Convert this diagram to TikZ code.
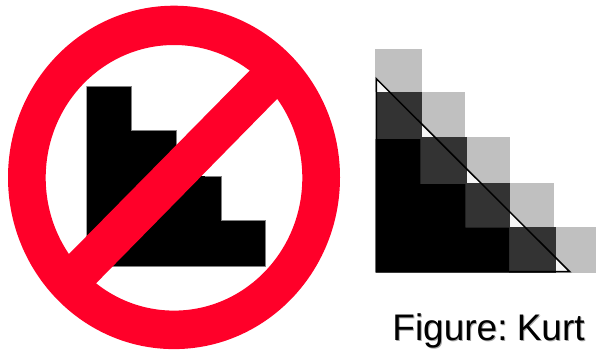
\documentclass[tikz,border=0pt]{standalone}
\usepackage{fontspec}
\setmainfont{Liberation Sans}
\definecolor{signred}{HTML}{FF0029}
\definecolor{lightcell}{HTML}{C0C0C0}
\definecolor{darkcell}{HTML}{333333}
\tikzset{
  lightsq/.style={fill=lightcell,draw=none},
  darksq/.style={fill=darkcell,draw=none},
  solidblack/.style={fill=black,draw=none},
  signpart/.style={fill=signred,draw=none},
  caption/.style={font=\fontsize{37}{42}\selectfont,inner sep=0pt,anchor=base west}
}
\begin{document}
\begin{tikzpicture}[x=1pt,y=-1pt]
\useasboundingbox (0,0) rectangle (596,351);
\fill[white] (0,0) rectangle (596,351);
% stairs behind the sign
\path[solidblack] (86.7,86) -- (131.3,86) -- (131.3,130) -- (176.3,130) -- (176.3,176) -- (221.3,176) -- (221.3,220) -- (265.3,220) -- (265.3,266.3) -- (86.7,266.3) -- cycle;
\draw[gray,line width=0.5pt] (86.7,86) -- (131.3,86) -- (131.3,130) -- (176.3,130) -- (176.3,150) (205,176) -- (221.3,176) -- (221.3,220) -- (265.3,220) -- (265.3,266.3) -- (110,266.3);
% prohibition sign
\path[signpart,even odd rule] (174,177.4) ellipse [x radius=166,y radius=171.7] (174,177.8) ellipse [x radius=128.3,y radius=132.8];
\path[signpart] (263.3,56.8) -- (290.7,85.1) -- (82.7,296.9) -- (55,268.2) -- cycle;
% pixel grid
\path[lightsq] (375.3,49) rectangle (421.7,92.3);
\path[lightsq] (421.7,92.3) rectangle (465.3,137.3);
\path[lightsq] (466.7,137.3) rectangle (510.3,182.7);
\path[lightsq] (510.3,182.7) rectangle (554.3,226.7);
\path[lightsq] (555.7,226.7) rectangle (595.7,272.7);
\fill[white!85!lightcell] (376.3,78.7) -- (569.7,271.7) -- (376.3,271.7) -- cycle;
\path[darksq] (375.7,92.3) rectangle (421.7,139);
\path[darksq] (420.3,137.3) rectangle (466.7,184);
\path[darksq] (465.3,182.7) rectangle (510.3,227.7);
\path[darksq] (509,226.7) rectangle (555.7,272.7);
\path[solidblack] (375.7,139) -- (420.3,139) -- (420.3,184) -- (465.3,184) -- (465.3,227.7) -- (509,227.7) -- (509,272.7) -- (375.7,272.7) -- cycle;
\draw[black,line width=1.5pt,line join=miter] (376.3,78.7) -- (569.7,271.7) -- (376.3,271.7) -- cycle;
% caption
\node[caption,text=gray!70] (capshadow) at (393.2,341) {Figure:\hspace{0.25em}Kurt};
\node[caption,text=black] (cap) at (392.2,340) {Figure:\hspace{0.25em}Kurt};
\end{tikzpicture}
\end{document}
